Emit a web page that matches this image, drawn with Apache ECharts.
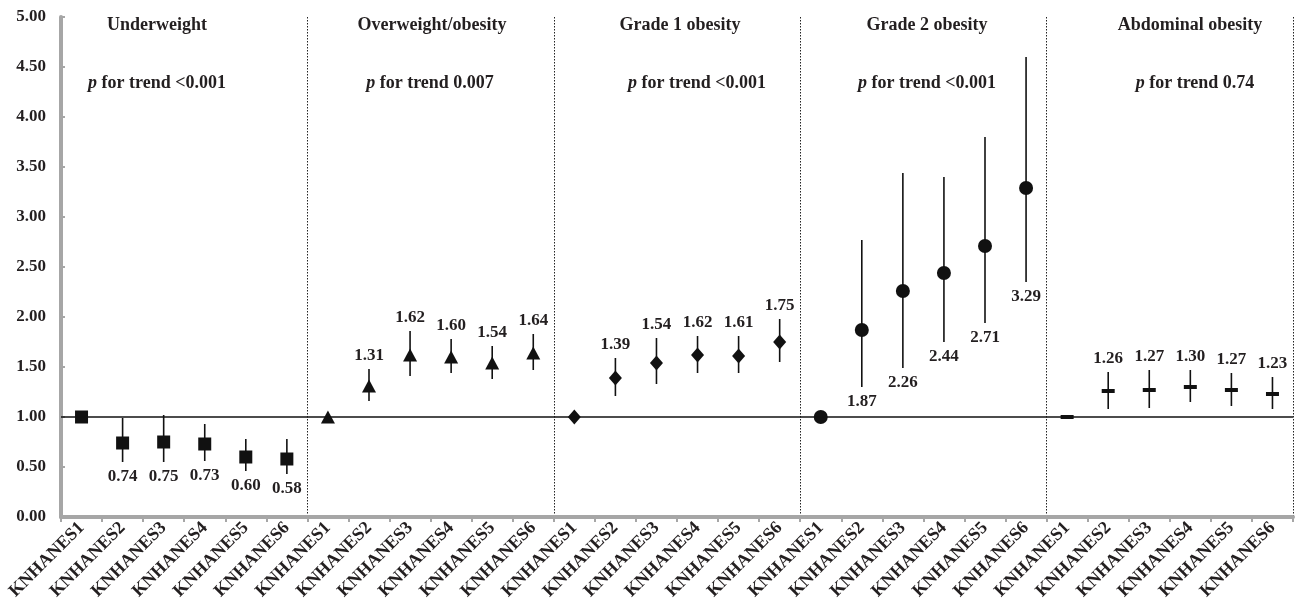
<!DOCTYPE html>
<html>
<head>
<meta charset="utf-8">
<script src="https://cdn.jsdelivr.net/npm/echarts@6/dist/echarts.min.js"></script>
<style>
html,body{margin:0;padding:0;background:#fff;}
#c{width:1305px;height:615px;}
</style>
</head>
<body>
<div id="c"></div>
<script>
// ---- data ----
const waves = ['KNHANES1','KNHANES2','KNHANES3','KNHANES4','KNHANES5','KNHANES6'];
const groupNames = ['Underweight','Overweight/obesity','Grade 1 obesity','Grade 2 obesity','Abdominal obesity'];
const trendValues = ['<0.001','0.007','<0.001','<0.001','0.74'];
const yTicks = [0,0.5,1,1.5,2,2.5,3,3.5,4,4.5,5];

const underweightOR = [1.00,0.74,0.75,0.73,0.60,0.58];
const underweightLo = [null,0.55,0.55,0.56,0.46,0.43];
const underweightHi = [null,0.99,1.02,0.93,0.78,0.78];

const overweightOR = [1.00,1.31,1.62,1.60,1.54,1.64];
const overweightLo = [null,1.16,1.41,1.44,1.38,1.47];
const overweightHi = [null,1.48,1.86,1.78,1.71,1.83];

const grade1OR = [1.00,1.39,1.54,1.62,1.61,1.75];
const grade1Lo = [null,1.21,1.33,1.44,1.44,1.55];
const grade1Hi = [null,1.59,1.79,1.81,1.81,1.98];

const grade2OR = [1.00,1.87,2.26,2.44,2.71,3.29];
const grade2Lo = [null,1.30,1.49,1.75,1.94,2.35];
const grade2Hi = [null,2.77,3.44,3.40,3.80,4.60];

const abdominalOR = [1.00,1.26,1.27,1.30,1.27,1.23];
const abdominalLo = [null,1.08,1.09,1.15,1.11,1.08];
const abdominalHi = [null,1.45,1.47,1.47,1.44,1.40];

// ---- build ----
const FONT = '"Liberation Serif","Times New Roman",serif';
const TXT = '#231f20';
const categories = [];
groupNames.forEach(() => waves.forEach(w => categories.push(w)));

const groupsData = [
  {or: underweightOR, lo: underweightLo, hi: underweightHi, symbol: 'rect', size: 13, labelSide: 'below'},
  {or: overweightOR, lo: overweightLo, hi: overweightHi, symbol: 'triangle', size: [14,13], labelSide: 'above'},
  {or: grade1OR, lo: grade1Lo, hi: grade1Hi, symbol: 'diamond', size: [13,15], labelSide: 'above'},
  {or: grade2OR, lo: grade2Lo, hi: grade2Hi, symbol: 'circle', size: 14, labelSide: 'below'},
  {or: abdominalOR, lo: abdominalLo, hi: abdominalHi, symbol: 'rect', size: [13,4], labelSide: 'above'}
];

const series = [];
groupsData.forEach((g, gi) => {
  const errData = [];
  const ptData = [];
  g.or.forEach((v, i) => {
    const x = gi * waves.length + i;
    ptData.push([x, v]);
    if (g.lo[i] != null) errData.push([x, g.lo[i], g.hi[i], v]);
  });
  series.push({
    type: 'custom',
    z: 3,
    data: errData,
    renderItem: (params, api) => {
      const x = api.value(0);
      const p1 = api.coord([x, api.value(1)]);
      const p2 = api.coord([x, api.value(2)]);
      const below = g.labelSide === 'below';
      const ly = below ? p1[1] + 15 : p2[1] - 13;
      return {
        type: 'group',
        children: [
          {type: 'line', shape: {x1: p1[0], y1: p1[1], x2: p2[0], y2: p2[1]},
           style: {stroke: '#111', lineWidth: 1.6}},
          {type: 'text', x: p1[0], y: ly,
           style: {text: api.value(3).toFixed(2), fill: TXT, font: 'bold 17px ' + FONT,
                   textAlign: 'center', textVerticalAlign: 'middle'}}
        ]
      };
    }
  });
  series.push({
    type: 'scatter',
    z: 4,
    symbol: g.symbol,
    symbolSize: g.size,
    itemStyle: {color: '#111', opacity: 1},
    data: ptData,
    markLine: gi === 0 ? {
      silent: true, symbol: 'none', label: {show: false},
      lineStyle: {color: '#111', width: 1.5, type: 'solid'},
      data: [{yAxis: 1}]
    } : undefined
  });
});

const headX = [157, 432, 680, 927, 1190];
const trendX = [157, 430, 697, 927, 1195];
const graphics = [];
groupNames.forEach((n, i) => {
  graphics.push({type: 'text', x: headX[i], y: 25, z: 10,
    style: {text: n, fill: TXT, font: 'bold 18px ' + FONT, textAlign: 'center', textVerticalAlign: 'middle'}});
  graphics.push({type: 'text', x: trendX[i], y: 83, z: 10,
    style: {text: '{i|p} for trend ' + trendValues[i], textAlign: 'center', textVerticalAlign: 'middle',
      rich: {i: {font: 'italic bold 18px ' + FONT, fill: TXT}},
      font: 'bold 18px ' + FONT, fill: TXT}});
});

const chart = echarts.init(document.getElementById('c'), null, {renderer: 'canvas'});
chart.setOption({
  backgroundColor: '#fff',
  animation: false,
  grid: {left: 61, right: 12, top: 17, bottom: 98, containLabel: false},
  xAxis: {
    type: 'category',
    data: categories,
    boundaryGap: true,
    axisLine: {lineStyle: {color: '#a6a6a6', width: 4}},
    axisTick: {show: true, interval: 0, length: 5, lineStyle: {color: '#a6a6a6', width: 2}},
    axisLabel: {interval: 0, rotate: 45, margin: 8, color: TXT, fontFamily: FONT, fontWeight: 'bold', fontSize: 18},
    splitLine: {show: true, interval: (idx) => idx > 0 && idx % 6 === 0,
      lineStyle: {color: '#222', width: 1, type: [1.5, 1.5]}}
  },
  yAxis: {
    type: 'value',
    min: yTicks[0], max: yTicks[yTicks.length - 1], interval: 0.5,
    axisLine: {show: true, lineStyle: {color: '#a6a6a6', width: 4}},
    axisTick: {show: true, inside: true, length: 4, lineStyle: {color: '#a6a6a6', width: 2}},
    axisLabel: {color: TXT, fontFamily: FONT, fontWeight: 'bold', fontSize: 17, margin: 15,
      formatter: v => v.toFixed(2)},
    splitLine: {show: false}
  },
  graphic: graphics,
  series: series
});
</script>
</body>
</html>
